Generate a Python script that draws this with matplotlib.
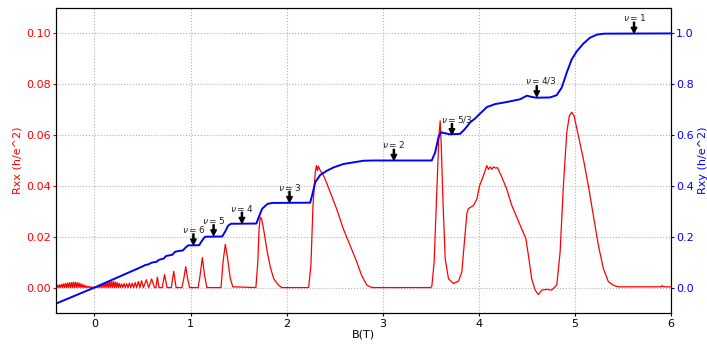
import matplotlib
matplotlib.use("Agg")
import matplotlib.pyplot as plt

# Longitudinal resistance Rxx (units of h/e^2) versus field B (T)
rxx_b = [
    -0.40, -0.39, -0.38, -0.37, -0.36, -0.35, -0.34, -0.33, -0.32, -0.31,
    -0.30, -0.29, -0.28, -0.27, -0.26, -0.25, -0.24, -0.23, -0.22, -0.21,
    -0.20, -0.19, -0.18, -0.17, -0.16, -0.15, -0.14, -0.13, -0.12, -0.11,
    -0.10, -0.09, -0.08, -0.07, -0.06, -0.05, -0.04, -0.03, -0.02, -0.01,
    0.00, 0.01, 0.02, 0.03, 0.04, 0.05, 0.06, 0.07, 0.08, 0.09,
    0.10, 0.11, 0.12, 0.13, 0.14, 0.15, 0.16, 0.17, 0.18, 0.19,
    0.20, 0.21, 0.22, 0.23, 0.24, 0.25, 0.26, 0.27,
    0.283, 0.296, 0.309, 0.322, 0.336, 0.350, 0.364, 0.378, 0.393, 0.408,
    0.424, 0.440, 0.457, 0.473, 0.490, 0.510, 0.540, 0.565, 0.595, 0.625,
    0.640, 0.655, 0.672, 0.705, 0.730, 0.755, 0.800, 0.825, 0.850,
    0.910, 0.930, 0.950, 0.970, 0.990,
    1.080, 1.100, 1.123, 1.145, 1.170,
    1.317, 1.338, 1.362, 1.386, 1.414, 1.440,
    1.680, 1.700, 1.713, 1.726, 1.740, 1.760, 1.796, 1.830, 1.865, 1.917, 1.950,
    2.229, 2.253, 2.274, 2.298, 2.310, 2.320, 2.330, 2.350, 2.385, 2.420,
    2.454, 2.520, 2.590, 2.660, 2.730, 2.780, 2.836, 2.890,
    3.500, 3.511, 3.535, 3.560, 3.585, 3.598, 3.610, 3.626, 3.650, 3.684,
    3.736, 3.788, 3.823, 3.847, 3.875, 3.890, 3.944, 3.980, 4.007, 4.048,
    4.083, 4.100, 4.118, 4.135, 4.152, 4.175, 4.194, 4.240, 4.290, 4.343,
    4.395, 4.447, 4.490, 4.516, 4.550, 4.586, 4.620, 4.655, 4.707, 4.759,
    4.811, 4.846, 4.880, 4.915, 4.942, 4.967, 4.991, 5.036, 5.088, 5.140,
    5.192, 5.244, 5.296, 5.348, 5.400, 5.452, 5.900, 5.910, 5.920, 6.000,
]
rxx = [
    0.0008, 0.0, 0.0010, 0.0, 0.0011, 0.0, 0.0013, 0.0, 0.0015, 0.0,
    0.0016, 0.0, 0.0018, 0.0, 0.0019, 0.0, 0.0020, 0.0, 0.0021, 0.0,
    0.0021, 0.0, 0.0020, 0.0, 0.0018, 0.0, 0.0015, 0.0, 0.0012, 0.0,
    0.0009, 0.0, 0.0006, 0.0, 0.0004, 0.0, 0.0003, 0.0, 0.0002, 0.0,
    0.0001, 0.0, 0.0004, 0.0, 0.0008, 0.0, 0.0011, 0.0, 0.0014, 0.0,
    0.0017, 0.0, 0.0019, 0.0, 0.0021, 0.0, 0.0023, 0.0, 0.0024, 0.0,
    0.0024, 0.0, 0.0022, 0.0, 0.0019, 0.0, 0.0016, 0.0,
    0.0014, 0.0, 0.0016, 0.0, 0.0015, 0.0, 0.0018, 0.0, 0.0017, 0.0,
    0.0020, 0.0, 0.0024, 0.0, 0.0027, 0.0, 0.0031, 0.0, 0.0034, 0.0,
    0.0, 0.0041, 0.0, 0.0, 0.0051, 0.0, 0.0, 0.0064, 0.0,
    0.0, 0.0035, 0.0082, 0.0035, 0.0,
    0.0, 0.0050, 0.0118, 0.0050, 0.0,
    0.0, 0.0100, 0.0170, 0.0114, 0.0035, 0.0003,
    0.0, 0.0100, 0.0230, 0.0277, 0.0270, 0.0230, 0.0146, 0.0081, 0.0035, 0.0009, 0.0,
    0.0, 0.0088, 0.0320, 0.0454, 0.0480, 0.0460, 0.0478, 0.0460, 0.0440, 0.0408,
    0.0375, 0.0310, 0.0231, 0.0166, 0.0101, 0.0048, 0.0009, 0.0,
    0.0, 0.0005, 0.0100, 0.0350, 0.0600, 0.0656, 0.0550, 0.0349, 0.0114, 0.0035,
    0.0016, 0.0025, 0.0061, 0.0166, 0.0290, 0.0310, 0.0323, 0.0349, 0.0400, 0.0440,
    0.0480, 0.0465, 0.0475, 0.0465, 0.0475, 0.0470, 0.0472, 0.0434, 0.0388, 0.0323,
    0.0277, 0.0231, 0.0192, 0.0127, 0.0035, -0.0010, -0.0027, -0.0010, -0.0007, -0.0010,
    0.0010, 0.0140, 0.0400, 0.0610, 0.0676, 0.0690, 0.0676, 0.0597, 0.0506, 0.0400,
    0.0284, 0.0166, 0.0075, 0.0023, 0.0009, 0.0003, 0.0003, 0.0008, 0.0003, 0.0003,
]

# Hall resistance Rxy (units of h/e^2) versus field B (T)
rxy_b = [
    -0.40, 0.00, 0.50, 0.53, 0.56, 0.59, 0.62, 0.645, 0.67, 0.70,
    0.72, 0.745, 0.78, 0.81, 0.84, 0.88, 0.92, 0.95, 0.975, 1.09,
    1.12, 1.15, 1.33, 1.36, 1.39, 1.42, 1.685, 1.71, 1.745, 1.80,
    1.85, 2.245, 2.27, 2.298, 2.35, 2.42, 2.49, 2.59, 2.70, 2.80,
    2.90, 3.51, 3.546, 3.58, 3.605, 3.65, 3.70, 3.806, 3.858, 3.91,
    3.96, 4.014, 4.083, 4.17, 4.29, 4.43, 4.50, 4.55, 4.60, 4.74,
    4.81, 4.863, 4.915, 4.967, 5.02, 5.088, 5.157, 5.227, 5.30, 6.00,
]
rxy = [
    -0.063, 0.0, 0.083, 0.089, 0.091, 0.097, 0.100, 0.101, 0.109, 0.112,
    0.114, 0.124, 0.127, 0.129, 0.141, 0.144, 0.146, 0.158, 0.166, 0.1667,
    0.185, 0.200, 0.201, 0.220, 0.243, 0.251, 0.252, 0.277, 0.310, 0.329,
    0.333, 0.334, 0.370, 0.4145, 0.443, 0.460, 0.473, 0.486, 0.493, 0.499,
    0.500, 0.500, 0.532, 0.591, 0.611, 0.607, 0.603, 0.605, 0.625, 0.650,
    0.665, 0.685, 0.710, 0.722, 0.730, 0.741, 0.755, 0.750, 0.747, 0.748,
    0.757, 0.787, 0.846, 0.898, 0.930, 0.960, 0.983, 0.995, 0.999, 1.000,
]

# Filling-factor labels: text, arrow B, arrow tip Rxy, text B, text Rxy
nu_labels = [r"$\nu=6$", r"$\nu=5$", r"$\nu=4$", r"$\nu=3$",
             r"$\nu=2$", r"$\nu=5/3$", r"$\nu=4/3$", r"$\nu=1$"]
nu_arrow_b = [1.03, 1.24, 1.535, 2.03, 3.116, 3.72, 4.603, 5.615]
nu_tip = [0.169, 0.205, 0.254, 0.336, 0.502, 0.603, 0.752, 1.002]
nu_text_b = [1.03, 1.24, 1.535, 2.03, 3.116, 3.767, 4.648, 5.615]
nu_text_y = [0.227, 0.262, 0.310, 0.395, 0.562, 0.663, 0.813, 1.062]

fig = plt.figure(figsize=(7.07, 3.45), dpi=100)
ax = fig.add_axes([0.0792, 0.0928, 0.8699, 0.884])
ax.plot(rxx_b, rxx, color="red", lw=0.9)
ax.set_xlim(-0.4, 6)
ax.set_ylim(-0.01, 0.11)
ax.set_xticks([0, 1, 2, 3, 4, 5, 6])
ax.set_yticks([0.0, 0.02, 0.04, 0.06, 0.08, 0.10])
ax.set_yticklabels(["0.00", "0.02", "0.04", "0.06", "0.08", "0.10"])
ax.tick_params(axis="x", labelsize=8, length=2.5, pad=1.5)
ax.tick_params(axis="y", labelsize=8, colors="red", length=2.5, pad=1)
ax.set_xlabel("B(T)", fontsize=8, labelpad=1)
ax.set_ylabel("Rxx (h/e^2)", fontsize=8, color="red", labelpad=2.5)
ax.grid(True, linestyle=":", color="#b0b0b0", lw=0.8)

ax2 = ax.twinx()
ax2.plot(rxy_b, rxy, color="blue", lw=1.4)
ax2.set_ylim(-0.1, 1.1)
ax2.set_yticks([0.0, 0.2, 0.4, 0.6, 0.8, 1.0])
ax2.tick_params(axis="y", labelsize=8, colors="blue", length=2.5, pad=1)
ax2.set_ylabel("Rxy (h/e^2)", fontsize=8, color="blue", labelpad=3)

for lab, ab, tip, tb, ty in zip(nu_labels, nu_arrow_b, nu_tip, nu_text_b, nu_text_y):
    ax2.annotate("", xy=(ab, tip), xytext=(ab, tip + 0.042),
                 arrowprops=dict(facecolor="black", edgecolor="black",
                                 width=0.8, headwidth=4, headlength=4, shrink=0))
    ax2.text(tb, ty, lab, ha="center", va="center", fontsize=6.5, color="#222222")

fig.savefig("out.png", dpi=100)
